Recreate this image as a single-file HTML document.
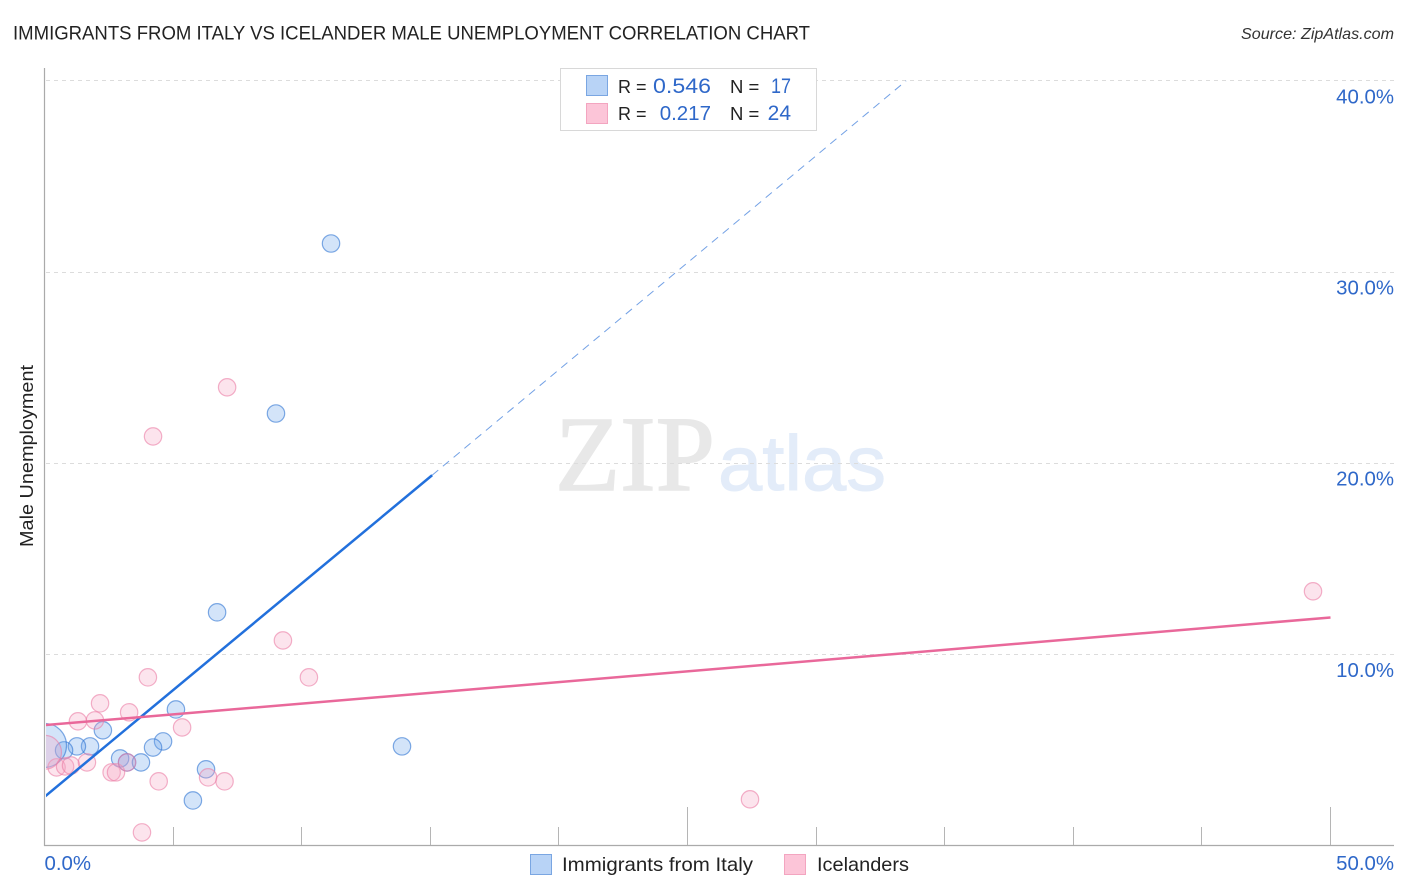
<!DOCTYPE html>
<html lang="en">
<head>
<meta charset="utf-8">
<title>Immigrants from Italy vs Icelander Male Unemployment Correlation Chart</title>
<style>
html,body{margin:0;padding:0;background:#fff;width:1406px;height:892px;overflow:hidden}
svg{display:block;font-family:"Liberation Sans",sans-serif}
</style>
</head>
<body>
<svg id="chart" width="1406" height="892" viewBox="0 0 1406 892" xmlns="http://www.w3.org/2000/svg">
  <defs>
    <clipPath id="plot-clip"><rect x="46" y="60" width="1350" height="785"/></clipPath>
  </defs>
  <g>
    <text x="555" y="490" font-family="'Liberation Serif',serif" font-size="107" fill="#e8e8e8" stroke="#e8e8e8" stroke-width="1.5" textLength="160" lengthAdjust="spacingAndGlyphs">ZIP</text>
    <text x="718" y="490" font-size="78" fill="#e3ecf9" stroke="#e3ecf9" stroke-width="1" textLength="168" lengthAdjust="spacingAndGlyphs">atlas</text>
  </g>
  <text x="13" y="39.5" font-size="19.5" fill="#222" textLength="797" lengthAdjust="spacingAndGlyphs">IMMIGRANTS FROM ITALY VS ICELANDER MALE UNEMPLOYMENT CORRELATION CHART</text>
  <text x="1394" y="39" font-size="16.1" font-style="italic" fill="#333" text-anchor="end">Source: ZipAtlas.com</text>
  <text x="0" y="0" transform="translate(33,456) rotate(-90)" font-size="18.5" fill="#222" text-anchor="middle" textLength="182" lengthAdjust="spacingAndGlyphs">Male Unemployment</text>
  <g id="grid"></g>
  <g id="axes"></g>
  <g id="points" clip-path="url(#plot-clip)"></g>
  <g id="trends" clip-path="url(#plot-clip)"></g>
  <g>
    <rect x="560.5" y="68.5" width="256" height="62" fill="#fff" stroke="#d8d8d8"/>
    <rect x="586.5" y="75.5" width="21" height="20" fill="#b8d3f6" stroke="#7aa6e2"/>
    <rect x="586.5" y="103.5" width="21" height="20" fill="#fcc5d8" stroke="#f3a5c0"/>
    <text x="618" y="93" font-size="18" fill="#222">R =</text>
    <text x="653" y="93" font-size="21" fill="#2f68c9" textLength="58" lengthAdjust="spacingAndGlyphs">0.546</text>
    <text x="730" y="93" font-size="18.5" fill="#222">N =</text>
    <text x="771" y="93" font-size="21" fill="#2f68c9" textLength="20" lengthAdjust="spacingAndGlyphs">17</text>
    <text x="618" y="120" font-size="18" fill="#222">R =</text>
    <text x="711" y="120" font-size="20.5" fill="#2f68c9" text-anchor="end">0.217</text>
    <text x="730" y="120" font-size="18.5" fill="#222">N =</text>
    <text x="791" y="120" font-size="21" fill="#2f68c9" text-anchor="end">24</text>
  </g>
  <g>
    <rect x="530.5" y="854.5" width="21" height="20" fill="#b8d3f6" stroke="#7aa6e2"/>
    <text x="562" y="871" font-size="19.5" fill="#222" textLength="191" lengthAdjust="spacingAndGlyphs">Immigrants from Italy</text>
    <rect x="784.5" y="854.5" width="21" height="20" fill="#fcc5d8" stroke="#f3a5c0"/>
    <text x="817" y="871" font-size="19.5" fill="#222" textLength="92" lengthAdjust="spacingAndGlyphs">Icelanders</text>
  </g>
</svg>
<script>
const xTickValues = [0, 5, 10, 15, 20, 25, 30, 35, 40, 45, 50];
const xMajorTicks = [25, 50];
const yGridValues = [10, 20, 30, 40];
const yTickLabels = ['10.0%', '20.0%', '30.0%', '40.0%'];
const xEndLabels = ['0.0%', '50.0%'];

const italyX = [11.14, 9.0, 6.71, 5.11, 2.27, 4.61, 4.22, 13.9, 1.77, 1.26, 0.76, 2.94, 3.21, 3.75, 6.28, 5.77, 0];
const italyY = [31.49, 22.6, 12.2, 7.12, 6.03, 5.45, 5.13, 5.19, 5.19, 5.19, 4.98, 4.56, 4.35, 4.35, 3.99, 2.36, 5.24];
const italyWeight = [1, 1, 1, 1, 1, 1, 1, 1, 1, 1, 1, 1, 1, 1, 1, 1, 6.4];

const icelandX = [49.32, 7.1, 4.22, 9.27, 10.28, 4.02, 2.16, 3.29, 1.96, 1.3, 5.35, 0.47, 0.8, 1.03, 1.65, 2.61, 2.78, 3.21, 4.44, 3.79, 6.36, 7.0, 27.43, 0];
const icelandY = [13.3, 23.97, 21.4, 10.73, 8.8, 8.8, 7.44, 6.97, 6.55, 6.5, 6.18, 4.09, 4.14, 4.19, 4.35, 3.83, 3.83, 4.35, 3.36, 0.69, 3.57, 3.36, 2.42, 4.88];
const icelandWeight = [1, 1, 1, 1, 1, 1, 1, 1, 1, 1, 1, 1, 1, 1, 1, 1, 1, 1, 1, 1, 1, 1, 1, 3.8];

const italyTrendX = [0, 15.07];
const italyTrendY = [2.55, 19.37];
const italyForecastX = [15.07, 33.5];
const italyForecastY = [19.37, 40];
const icelandTrendX = [0, 50];
const icelandTrendY = [6.3, 11.93];

const svgNS = 'http://www.w3.org/2000/svg';
const xScale = function (v) { return 44.5 + v * 25.72; };
const yScale = function (v) { return 845.6 - v * 19.12; };

function make(tag, attrs, parent) {
  const el = document.createElementNS(svgNS, tag);
  Object.keys(attrs).forEach(function (k) { el.setAttribute(k, attrs[k]); });
  parent.appendChild(el);
  return el;
}

const grid = document.getElementById('grid');
const axes = document.getElementById('axes');
const points = document.getElementById('points');
const trends = document.getElementById('trends');

yGridValues.forEach(function (v, i) {
  const y = Math.floor(yScale(v)) + 0.5;
  const line = make('line', { x1: 46, x2: 1394, y1: y, y2: y, stroke: '#dcdcdc', 'stroke-width': 1, 'stroke-dasharray': '4 4' }, grid);
  
  
  const label = make('text', { x: 1394, y: yScale(v) + 22.5, 'font-size': 20.4, fill: '#2f68c9', 'text-anchor': 'end' }, axes);
  label.textContent = yTickLabels[i];
  
  
});

const yAxis = make('line', { x1: 44.5, x2: 44.5, y1: 68, y2: 846, stroke: '#aaa', 'stroke-width': 1.2 }, axes);


const xAxis = make('line', { x1: 44, x2: 1394, y1: 845.5, y2: 845.5, stroke: '#aaa', 'stroke-width': 1.2 }, axes);



xTickValues.forEach(function (v) {
  if (v === 0) return;
  const x = Math.floor(xScale(v)) + 0.5;
  const top = xMajorTicks.indexOf(v) >= 0 ? 807 : 827;
  const tick = make('line', { x1: x, x2: x, y1: top, y2: 845, stroke: '#b5b5b5', 'stroke-width': 1 }, axes);
  
  
});

const xLabelLeft = make('text', { x: xScale(0), y: 870, 'font-size': 20.4, fill: '#2f68c9' }, axes);
xLabelLeft.textContent = xEndLabels[0];


const xLabelRight = make('text', { x: 1394, y: 870, 'font-size': 20.4, fill: '#2f68c9', 'text-anchor': 'end' }, axes);
xLabelRight.textContent = xEndLabels[1];



italyX.forEach(function (v, i) {
  const c = make('circle', { cx: xScale(v), cy: yScale(italyY[i]), r: 8.7 * Math.sqrt(italyWeight[i]), fill: 'rgba(110,165,235,0.3)', stroke: 'rgba(45,115,210,0.6)', 'stroke-width': 1.2 }, points);
  
  
});

icelandX.forEach(function (v, i) {
  const c = make('circle', { cx: xScale(v), cy: yScale(icelandY[i]), r: 8.7 * Math.sqrt(icelandWeight[i]), fill: 'rgba(245,165,195,0.3)', stroke: 'rgba(235,125,165,0.6)', 'stroke-width': 1.2 }, points);
  
  
});

const italyForecast = make('line', { x1: xScale(italyForecastX[0]), y1: yScale(italyForecastY[0]), x2: xScale(italyForecastX[1]), y2: yScale(italyForecastY[1]), stroke: 'rgba(40,110,215,0.65)', 'stroke-width': 1, 'stroke-dasharray': '8 6' }, trends);


const italyTrend = make('line', { x1: xScale(italyTrendX[0]), y1: yScale(italyTrendY[0]), x2: xScale(italyTrendX[1]), y2: yScale(italyTrendY[1]), stroke: '#2270dc', 'stroke-width': 2.5 }, trends);


const icelandTrend = make('line', { x1: xScale(icelandTrendX[0]), y1: yScale(icelandTrendY[0]), x2: xScale(icelandTrendX[1]), y2: yScale(icelandTrendY[1]), stroke: '#e9689a', 'stroke-width': 2.5 }, trends);


</script>
</body>
</html>
